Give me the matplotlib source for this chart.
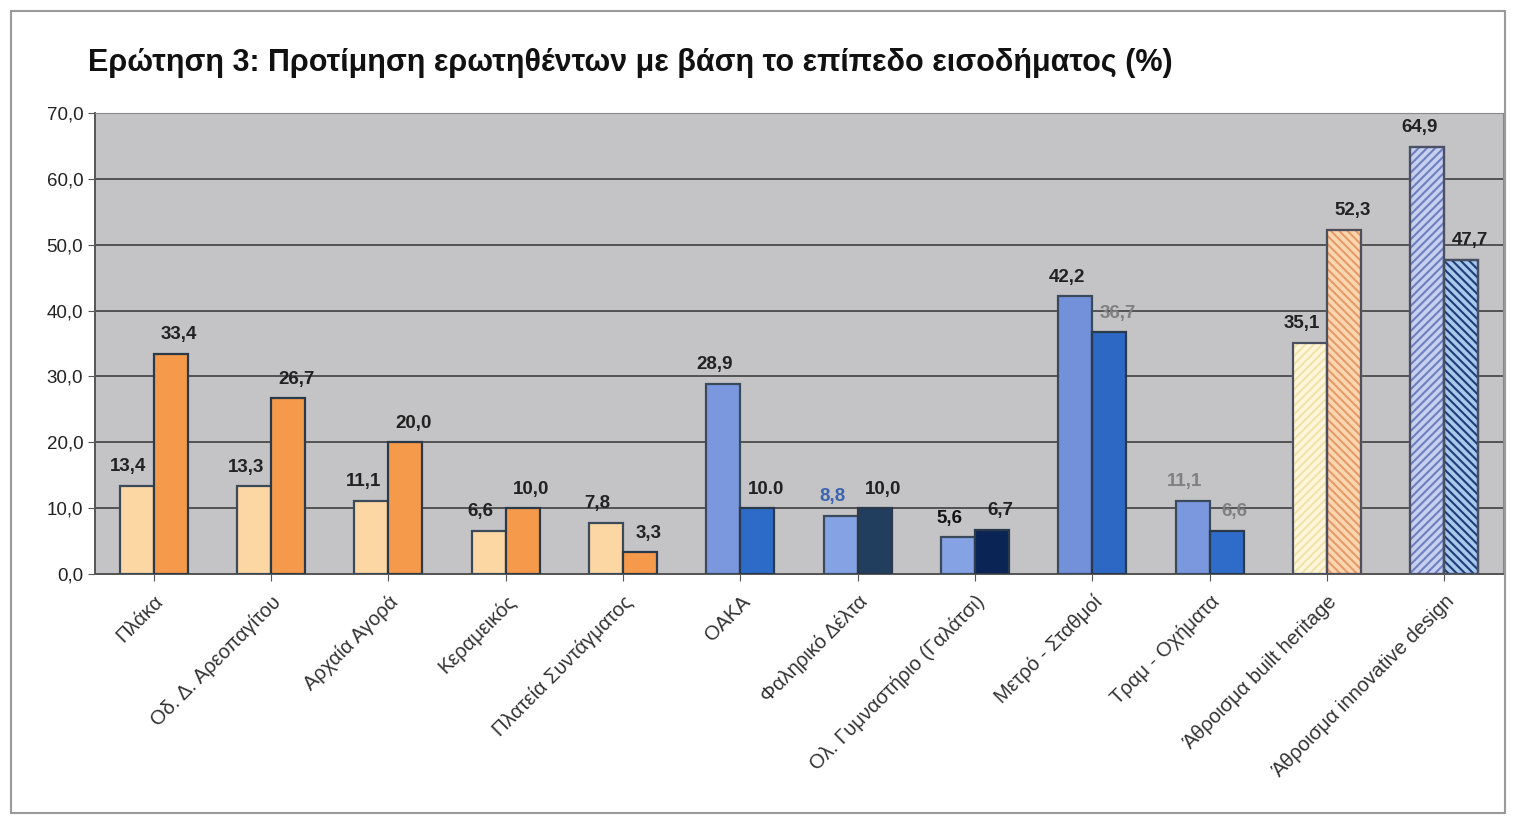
import matplotlib
matplotlib.use("Agg")
import matplotlib.pyplot as plt
from matplotlib.patches import Rectangle
import numpy as np

plt.rcParams['font.family'] = ['Liberation Sans', 'DejaVu Sans']
plt.rcParams['hatch.linewidth'] = 1.5

title = "Ερώτηση 3: Προτίμηση ερωτηθέντων με βάση το επίπεδο εισοδήματος (%)"
categories = ["Πλάκα", "Οδ. Δ. Αρεοπαγίτου", "Αρχαία Αγορά", "Κεραμεικός",
              "Πλατεία Συντάγματος", "ΟΑΚΑ", "Φαληρικό Δέλτα",
              "Ολ. Γυμναστήριο (Γαλάτσι)", "Μετρό - Σταθμοί", "Τραμ - Οχήματα",
              "Άθροισμα built heritage", "Άθροισμα innovative design"]
series1 = [13.4, 13.3, 11.1, 6.6, 7.8, 28.9, 8.8, 5.6, 42.2, 11.1, 35.1, 64.9]
series2 = [33.4, 26.7, 20.0, 10.0, 3.3, 10.0, 10.0, 6.7, 36.7, 6.6, 52.3, 47.7]
labels1 = ["13,4", "13,3", "11,1", "6,6", "7,8", "28,9", "8,8", "5,6", "42,2", "11,1", "35,1", "64,9"]
labels2 = ["33,4", "26,7", "20,0", "10,0", "3,3", "10.0", "10,0", "6,7", "36,7", "6,6", "52,3", "47,7"]
yticks = [0, 10, 20, 30, 40, 50, 60, 70]
ytick_labels = ["0,0", "10,0", "20,0", "30,0", "40,0", "50,0", "60,0", "70,0"]

colors1 = ["#FCD7A4"] * 5 + ["#7B98DE", "#85A2E4", "#85A2E4", "#7390DA", "#7B98DE", "#FFF6DC", "#C8D0F0"]
colors2 = ["#F59A4A"] * 5 + ["#2C6CC8", "#223E5E", "#0B2456", "#2C68C4", "#2F6CCA", "#FBD7B0", "#A8C8EC"]
hatch1 = [None] * 10 + ["////", "////"]
hatch2 = [None] * 10 + ["\\\\\\\\", "\\\\\\\\"]
hcol1 = [None] * 10 + ["#F2E2A8", "#6E7FC0"]
hcol2 = [None] * 10 + ["#E89A6A", "#1E3C78"]
lab1_col = ["#222222"] * 6 + ["#3C64B0", "#111111", "#222222", "#808080", "#222222", "#222222"]
lab2_col = ["#222222"] * 8 + ["#808080", "#808080", "#222222", "#222222"]

fig = plt.figure(figsize=(15.16, 8.16), dpi=100)
fig.patch.set_facecolor("white")
fig.patches.append(Rectangle((0.007, 0.004), 0.986, 0.982, transform=fig.transFigure,
                             fill=False, edgecolor="#9A9A9A", linewidth=1.5))

ax = fig.add_axes([0.0627, 0.2966, 0.9287, 0.5649])
ax.set_facecolor("#C4C4C6")
x = np.arange(len(categories))
w = 0.29

for i in range(len(categories)):
    ax.bar(x[i] - w / 2, series1[i], w, color=colors1[i],
           edgecolor=hcol1[i] if hatch1[i] else "#3A4A5A",
           linewidth=1.6, hatch=hatch1[i], zorder=3)
    ax.bar(x[i] + w / 2, series2[i], w, color=colors2[i],
           edgecolor=hcol2[i] if hatch2[i] else "#2A3A4A",
           linewidth=1.6, hatch=hatch2[i], zorder=3)
    if hatch1[i]:
        ax.bar(x[i] - w / 2, series1[i], w, fill=False, edgecolor="#4A5060", linewidth=1.6, zorder=4)
        ax.bar(x[i] + w / 2, series2[i], w, fill=False, edgecolor="#4A5060", linewidth=1.6, zorder=4)
    ax.text(x[i] - w / 2 - 0.07, series1[i] + 1.6, labels1[i], ha="center", va="bottom",
            fontsize=13.5, fontweight="bold", color=lab1_col[i], zorder=5)
    ax.text(x[i] + w / 2 + 0.07, series2[i] + 1.6, labels2[i], ha="center", va="bottom",
            fontsize=13.5, fontweight="bold", color=lab2_col[i], zorder=5)

ax.set_xlim(-0.5, len(categories) - 0.5)
ax.set_ylim(0, 70)
ax.set_yticks(yticks)
ax.set_yticklabels(ytick_labels, fontsize=13.5, color="#222222")
ax.yaxis.grid(True, color="#4A4A4A", linewidth=1.3, zorder=0)
ax.set_axisbelow(True)
ax.set_xticks(x)
ax.set_xticklabels(categories, rotation=45, ha="right", rotation_mode="anchor",
                   fontsize=14.5, color="#333333")
ax.tick_params(axis="x", length=5, color="#555555", pad=8)
ax.tick_params(axis="y", length=5, color="#555555")
for s in ["top", "right"]:
    ax.spines[s].set_color("#888888")
for s in ["left", "bottom"]:
    ax.spines[s].set_color("#555555")
    ax.spines[s].set_linewidth(1.4)

fig.text(0.058, 0.923, title, fontsize=22, fontweight="bold", color="#111111", va="center")

fig.savefig("out.png", dpi=100)
